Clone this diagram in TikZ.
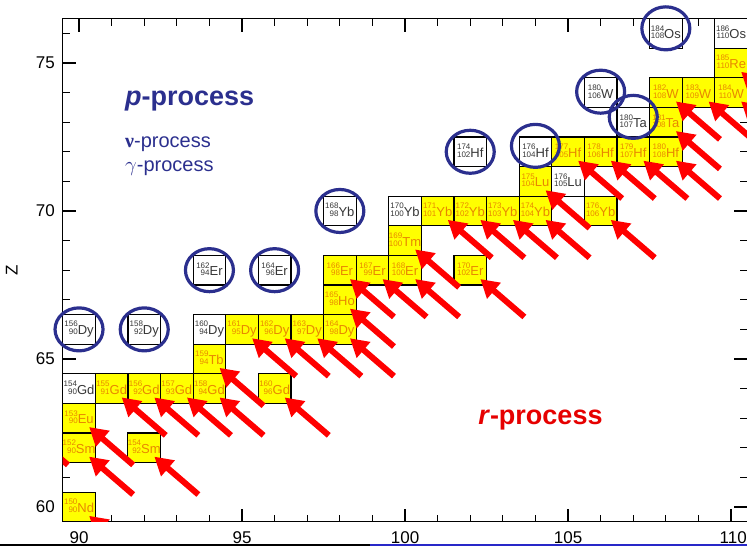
\documentclass[tikz,border=0pt]{standalone}
\usepackage{fontspec}
\setmainfont{Liberation Sans}
\newfontfamily\grkserif{Liberation Serif}
\usetikzlibrary{arrows.meta}
\definecolor{pblue}{RGB}{43,47,142}
\definecolor{nucyel}{RGB}{255,255,0}
\definecolor{nuctxt}{RGB}{232,135,0}
\definecolor{wtxt}{RGB}{55,55,55}
\definecolor{rred}{RGB}{255,0,0}
\definecolor{rtext}{RGB}{230,0,0}
\definecolor{slideblue}{RGB}{40,40,200}
\newcommand{\nuclab}[3]{{\fontsize{8}{7}\selectfont\begin{tabular}[b]{@{}r@{}}#1\\#2\end{tabular}}{\fontsize{13}{13}\selectfont#3}}
\begin{document}
\begin{tikzpicture}[x=32.6pt,y=29.6pt,
  nbox/.style={draw=black,line width=1.2pt,minimum width=32.6pt,minimum height=29.6pt,inner sep=0pt},
  ybox/.style={nbox,fill=nucyel,text=nuctxt},
  wbox/.style={nbox,fill=white,text=wtxt},
  pring/.style={draw=pblue,line width=3.2pt},
  rarrow/.style={draw=rred,line width=6pt,-{Triangle[length=18pt,width=20pt]}},
  tk/.style={draw=black,line width=1.2pt},
  axlab/.style={font=\fontsize{17}{17}\selectfont,inner sep=0pt}]
\useasboundingbox (87.5767,58.6487) rectangle (110.4908,77.1284);
% slide border
\draw[black,line width=2pt] (87.5767,58.70) -- (98.93,58.70);
\draw[slideblue,line width=2pt] (98.93,58.70) -- (110.4908,58.70);
% ticks
\foreach \i in {90,...,110} {
  \draw[tk] (\i,59.5) -- ++(0,0.236);
  \draw[tk] (\i,76.5) -- ++(0,-0.236);
}
\foreach \i in {90,95,...,110} {
  \draw[tk] (\i,59.5) -- ++(0,0.44);
  \draw[tk] (\i,76.5) -- ++(0,-0.44);
}
\foreach \j in {60,...,76} {
  \draw[tk] (89.5,\j) -- ++(0.215,0);
  \draw[tk] (110.5,\j) -- ++(-0.215,0);
}
\foreach \j in {60,65,70,75} {
  \draw[tk] (89.5,\j) -- ++(0.4,0);
  \draw[tk] (110.5,\j) -- ++(-0.4,0);
  \node[axlab,anchor=east] (yl\j) at (89.26,\j) {\j};
}
\foreach \i in {90,95,...,105} {
  \node[axlab,anchor=north] (xl\i) at (\i,59.17) {\i};
}
\node[axlab,anchor=north east] (xl110) at (110.49,59.17) {110};
\draw[tk] (89.5,59.5) rectangle (110.5,76.5);
\node[axlab,rotate=90] (zlab) at (87.94,68.0) {Z};
% nuclides: r-process (yellow)
\node[ybox] (Nd150) at (90,60) {\nuclab{150}{90}{Nd}};
\node[ybox] (Sm152) at (90,62) {\nuclab{152}{90}{Sm}};
\node[ybox] (Eu153) at (90,63) {\nuclab{153}{90}{Eu}};
\node[ybox] (Sm154) at (92,62) {\nuclab{154}{92}{Sm}};
\node[ybox] (Gd155) at (91,64) {\nuclab{155}{91}{Gd}};
\node[ybox] (Gd156) at (92,64) {\nuclab{156}{92}{Gd}};
\node[ybox] (Gd157) at (93,64) {\nuclab{157}{93}{Gd}};
\node[ybox] (Gd158) at (94,64) {\nuclab{158}{94}{Gd}};
\node[ybox] (Gd160) at (96,64) {\nuclab{160}{96}{Gd}};
\node[ybox] (Tb159) at (94,65) {\nuclab{159}{94}{Tb}};
\node[ybox] (Dy161) at (95,66) {\nuclab{161}{95}{Dy}};
\node[ybox] (Dy162) at (96,66) {\nuclab{162}{96}{Dy}};
\node[ybox] (Dy163) at (97,66) {\nuclab{163}{97}{Dy}};
\node[ybox] (Dy164) at (98,66) {\nuclab{164}{98}{Dy}};
\node[ybox] (Ho165) at (98,67) {\nuclab{165}{98}{Ho}};
\node[ybox] (Er166) at (98,68) {\nuclab{166}{98}{Er}};
\node[ybox] (Er167) at (99,68) {\nuclab{167}{99}{Er}};
\node[ybox] (Er168) at (100,68) {\nuclab{168}{100}{Er}};
\node[ybox] (Er170) at (102,68) {\nuclab{170}{102}{Er}};
\node[ybox] (Tm169) at (100,69) {\nuclab{169}{100}{Tm}};
\node[ybox] (Yb171) at (101,70) {\nuclab{171}{101}{Yb}};
\node[ybox] (Yb172) at (102,70) {\nuclab{172}{102}{Yb}};
\node[ybox] (Yb173) at (103,70) {\nuclab{173}{103}{Yb}};
\node[ybox] (Yb174) at (104,70) {\nuclab{174}{104}{Yb}};
\node[ybox] (Yb176) at (106,70) {\nuclab{176}{106}{Yb}};
\node[ybox] (Lu175) at (104,71) {\nuclab{175}{104}{Lu}};
\node[ybox] (Hf177) at (105,72) {\nuclab{177}{105}{Hf}};
\node[ybox] (Hf178) at (106,72) {\nuclab{178}{106}{Hf}};
\node[ybox] (Hf179) at (107,72) {\nuclab{179}{107}{Hf}};
\node[ybox] (Hf180) at (108,72) {\nuclab{180}{108}{Hf}};
\node[ybox] (Ta181) at (108,73) {\nuclab{181}{108}{Ta}};
\node[ybox] (W182) at (108,74) {\nuclab{182}{108}{W}};
\node[ybox] (W183) at (109,74) {\nuclab{183}{109}{W}};
\node[ybox] (W184) at (110,74) {\nuclab{184}{110}{W}};
\node[ybox] (Re185) at (110,75) {\nuclab{185}{110}{Re}};
% white nuclides
\node[wbox] (Gd154) at (90,64) {\nuclab{154}{90}{Gd}};
\node[wbox] (Dy160) at (94,66) {\nuclab{160}{94}{Dy}};
\node[wbox] (Yb170) at (100,70) {\nuclab{170}{100}{Yb}};
\node[wbox] (Lu176) at (105,71) {\nuclab{176}{105}{Lu}};
\node[wbox] (Os186) at (110,76) {\nuclab{186}{110}{Os}};
\node[wbox] (Dy156) at (90,66) {\nuclab{156}{90}{Dy}};
\node[wbox] (Dy158) at (92,66) {\nuclab{158}{92}{Dy}};
\node[wbox] (Er162) at (94,68) {\nuclab{162}{94}{Er}};
\node[wbox] (Er164) at (96,68) {\nuclab{164}{96}{Er}};
\node[wbox] (Yb168) at (98,70) {\nuclab{168}{98}{Yb}};
\node[wbox] (Hf174) at (102,72) {\nuclab{174}{102}{Hf}};
\node[wbox] (Hf176) at (104,72) {\nuclab{176}{104}{Hf}};
\node[wbox] (W180) at (106,74) {\nuclab{180}{106}{W}};
\node[wbox] (Ta180) at (107,73) {\nuclab{180}{107}{Ta}};
\node[wbox] (Os184) at (108,76) {\nuclab{184}{108}{Os}};
\coordinate (Eu151) at (88,63);
% r-process arrows
\begin{scope}
\clip (89.5,59.5) rectangle (110.5,76.5);
\foreach \n in {Eu151,Nd150,Sm152,Eu153,Sm154,Gd155,Gd156,Gd157,Gd158,Gd160,Tb159,Dy161,Dy162,Dy163,Dy164,Ho165,Er166,Er167,Er168,Er170,Tm169,Yb171,Yb172,Yb173,Yb174,Yb176,Lu175,Hf177,Hf178,Hf179,Hf180,Ta181,W182,W183,W184,Re185}
  \draw[rarrow] ([shift={(1.66,-1.58)}]\n.center) -- ([shift={(0.31,-0.30)}]\n.center);
\end{scope}
% p-nuclei rings
\foreach \n/\dy in {Dy156/0,Dy158/0,Er162/0,Er164/0,Yb168/0,Hf174/0,Hf176/0.2,W180/0.03,Ta180/0.18,Os184/0.17}
  \draw[pring] ([yshift=\dy*29.6pt]\n.center) ellipse [x radius=24pt, y radius=21.5pt];
% process labels
\node[anchor=base west,inner sep=0pt,text=pblue,font=\fontsize{27}{27}\selectfont\bfseries] (pproc) at (91.41,73.55) {\textit{p}-process};
\node[anchor=base west,inner sep=0pt,text=pblue,font=\fontsize{20}{20}\selectfont] (nuproc) at (91.41,72.13) {{\grkserif\bfseries ν}-process};
\node[anchor=base west,inner sep=0pt,text=pblue,font=\fontsize{20}{20}\selectfont] (gaproc) at (91.41,71.32) {$\gamma$-process};
\node[anchor=base west,inner sep=0pt,text=rtext,font=\fontsize{27}{27}\selectfont\bfseries] (rproc) at (102.24,62.80) {\textit{r}-process};
\end{tikzpicture}
\end{document}
